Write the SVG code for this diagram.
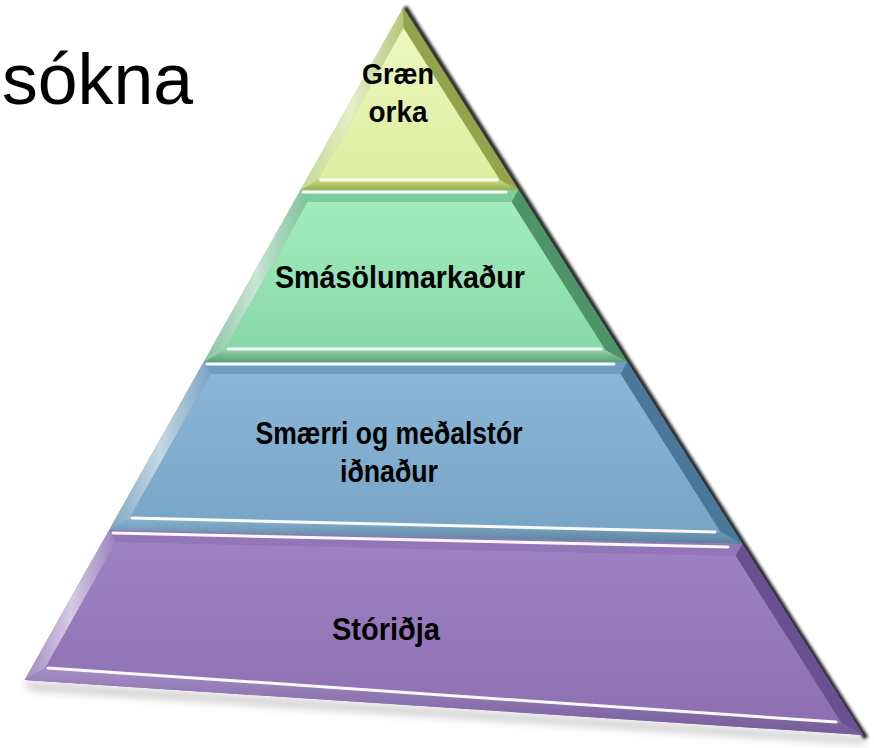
<svg xmlns="http://www.w3.org/2000/svg" width="874" height="748" viewBox="0 0 874 748">
<style>
.lbl{font-family:"Liberation Sans",Arial,sans-serif;font-weight:700;fill:#000;text-anchor:middle;}
.hl{stroke:#ffffff;stroke-width:3;stroke-linecap:round;fill:none;opacity:0.95;}
.title{font-family:"Liberation Sans",Arial,sans-serif;font-size:72px;fill:#000;}
</style>
<defs>
<filter id="blur2" x="-5%" y="-5%" width="110%" height="110%"><feGaussianBlur stdDeviation="1.6"/></filter>
<filter id="blur4" x="-10%" y="-50%" width="120%" height="200%"><feGaussianBlur stdDeviation="4"/></filter>
<linearGradient id="fY" x1="0" y1="0" x2="0" y2="1"><stop offset="0" stop-color="#eef8c0"/><stop offset="1" stop-color="#dcee9e"/></linearGradient>
<linearGradient id="fG" x1="0" y1="0" x2="0" y2="1"><stop offset="0" stop-color="#a2ecbe"/><stop offset="1" stop-color="#88d8a8"/></linearGradient>
<linearGradient id="fB" x1="0" y1="0" x2="0" y2="1"><stop offset="0" stop-color="#8ab6d8"/><stop offset="1" stop-color="#78a4c6"/></linearGradient>
<linearGradient id="fP" x1="0" y1="0" x2="0" y2="1"><stop offset="0" stop-color="#9e82c4"/><stop offset="1" stop-color="#8e70b2"/></linearGradient>
<linearGradient id="lY" x1="0" y1="0" x2="1" y2="0"><stop offset="0" stop-color="#c6d890"/><stop offset="0.5" stop-color="#e4eec8"/><stop offset="1" stop-color="#b6c878"/></linearGradient>
<linearGradient id="lG" x1="0" y1="0" x2="1" y2="0"><stop offset="0" stop-color="#88c4a0"/><stop offset="0.5" stop-color="#c8e6d4"/><stop offset="1" stop-color="#7cc49a"/></linearGradient>
<linearGradient id="lB" x1="0" y1="0" x2="1" y2="0"><stop offset="0" stop-color="#7ea6c2"/><stop offset="0.5" stop-color="#c4d8e6"/><stop offset="1" stop-color="#7ca4c2"/></linearGradient>
<linearGradient id="lP" x1="0" y1="0" x2="1" y2="0"><stop offset="0" stop-color="#a08ac0"/><stop offset="0.5" stop-color="#d6cae6"/><stop offset="1" stop-color="#9a82bc"/></linearGradient>
<linearGradient id="bY" x1="0" y1="0" x2="0" y2="1"><stop offset="0" stop-color="#c8da80"/><stop offset="1" stop-color="#9aac50"/></linearGradient>
<linearGradient id="bG" x1="0" y1="0" x2="0" y2="1"><stop offset="0" stop-color="#8ed2a8"/><stop offset="1" stop-color="#5a9e74"/></linearGradient>
<linearGradient id="bB" x1="0" y1="0" x2="0" y2="1"><stop offset="0" stop-color="#8ab4d2"/><stop offset="1" stop-color="#58809c"/></linearGradient>
<linearGradient id="bP" x1="0" y1="0" x2="0" y2="1"><stop offset="0" stop-color="#a48cc6"/><stop offset="1" stop-color="#735a98"/></linearGradient>
</defs>

<g id="title">
<text class="title" x="2" y="104" textLength="191" lengthAdjust="spacingAndGlyphs">sókna</text>
</g>

<g id="shadow">
<polygon points="24,682 863,737 866,744 30,690" fill="#9a9a9a" opacity="0.55" filter="url(#blur4)"/>
<polyline points="405,7 866,738" stroke="#1c1c1c" stroke-width="5" fill="none" filter="url(#blur2)"/>
</g>

<g id="node-graen">
<polygon points="403,8 518.2,190 300.5,190" fill="#b4c86c"/>
<polygon points="403,8 403.5,28 317.7,180 300.5,190" fill="url(#lY)"/>
<polygon points="403,8 518.2,190 499.9,180 403.5,28" fill="#94a44c"/>
<polygon points="300.5,190 518.2,190 499.9,180 317.7,180" fill="url(#bY)"/>
<polygon points="403.5,28 499.9,180 317.7,180" fill="url(#fY)"/>
<line class="hl" x1="321" y1="180" x2="497" y2="180"/>
<text class="lbl" font-size="29" x="398" y="84" textLength="72" lengthAdjust="spacingAndGlyphs">Græn</text>
<text class="lbl" font-size="29" x="398" y="122" textLength="59" lengthAdjust="spacingAndGlyphs">orka</text>
</g>

<g id="node-smasolumarkadur">
<polygon points="300.5,190 518.2,190 627.1,362 203.7,362" fill="#6fbe8e"/>
<polygon points="300.5,190 518.2,190 511.6,202 307.6,202" fill="#7ccc9c"/>
<polygon points="518.2,190 627.1,362 605.3,350 511.6,202" fill="#4e9468"/>
<polygon points="627.1,362 203.7,362 224.3,350 605.3,350" fill="url(#bG)"/>
<polygon points="203.7,362 300.5,190 307.6,202 224.3,350" fill="url(#lG)"/>
<polygon points="307.6,202 511.6,202 605.3,350 224.3,350" fill="url(#fG)"/>
<line class="hl" x1="303" y1="192" x2="506" y2="192" stroke-width="2.5"/>
<line class="hl" x1="228" y1="349" x2="601" y2="349"/>
<text class="lbl" font-size="31" x="400" y="288" textLength="250" lengthAdjust="spacingAndGlyphs">Smásölumarkaður</text>
</g>

<g id="node-smaerri">
<polygon points="203.7,362 627.1,362 742.3,544 109.1,530" fill="#6a98ba"/>
<polygon points="203.7,362 627.1,362 620.5,374 210.7,374" fill="#6f9ec0"/>
<polygon points="627.1,362 742.3,544 720.5,532 620.5,374" fill="#4b7898"/>
<polygon points="742.3,544 109.1,530 129.7,518 720.5,532" fill="url(#bB)"/>
<polygon points="109.1,530 203.7,362 210.7,374 129.7,518" fill="url(#lB)"/>
<polygon points="210.7,374 620.5,374 720.5,532 129.7,518" fill="url(#fB)"/>
<line class="hl" x1="207" y1="364" x2="614" y2="364" stroke-width="2.5"/>
<line class="hl" x1="132" y1="518" x2="715" y2="532"/>
<text class="lbl" font-size="31" x="389" y="444" textLength="267" lengthAdjust="spacingAndGlyphs">Smærri og meðalstór</text>
<text class="lbl" font-size="31" x="389" y="482" textLength="98" lengthAdjust="spacingAndGlyphs">iðnaður</text>
</g>

<g id="node-storidja">
<polygon points="109.1,530 742.3,544 863.2,735 24.7,680" fill="#8a6eae"/>
<polygon points="109.1,530 742.3,544 735.7,556 116.2,542" fill="#9276b8"/>
<polygon points="742.3,544 863.2,735 841.4,723 735.7,556" fill="#6a5090"/>
<polygon points="863.2,735 24.7,680 45.2,668 841.4,723" fill="url(#bP)"/>
<polygon points="24.7,680 109.1,530 116.2,542 45.2,668" fill="url(#lP)"/>
<polygon points="116.2,542 735.7,556 841.4,723 45.2,668" fill="url(#fP)"/>
<line class="hl" x1="113" y1="533" x2="728" y2="547" stroke-width="2.5"/>
<line class="hl" x1="48" y1="668" x2="836" y2="722"/>
<text class="lbl" font-size="31" x="386" y="640" textLength="108" lengthAdjust="spacingAndGlyphs">Stóriðja</text>
</g>
</svg>
